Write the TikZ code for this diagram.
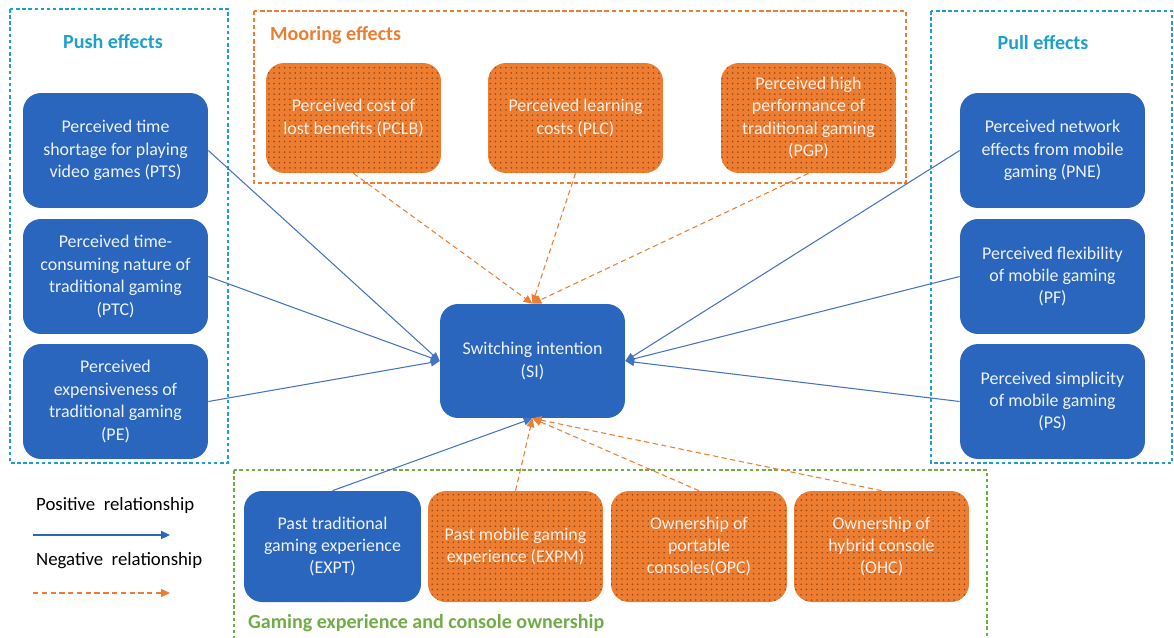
\documentclass[tikz,border=0pt]{standalone}
\usepackage{fontspec}
\setmainfont{Carlito}
\usepackage{tikz}
\usetikzlibrary{arrows.meta,patterns}

\definecolor{boxblue}{RGB}{42,101,190}
\definecolor{linkblue}{RGB}{68,114,196}
\definecolor{boxorange}{RGB}{237,125,49}
\definecolor{dotbrown}{RGB}{150,70,20}
\definecolor{pushcyan}{RGB}{30,160,205}
\definecolor{groupgreen}{RGB}{112,173,71}

\begin{document}
\begin{tikzpicture}[x=0.02cm, y=-0.02cm,
  every node/.style={font=\fontsize{10.2}{12.8}\selectfont, align=center},
  var/.style={rounded corners=0.36cm, minimum width=3.7cm, minimum height=2.3cm, inner sep=2pt},
  posbox/.style={var, fill=boxblue, text=white!92!boxblue},
  negbox/.style={var, fill=boxorange, text=white!88!boxorange,
    postaction={pattern=dots, pattern color=dotbrown}},
  title/.style={font=\fontsize{11.4}{13}\selectfont\bfseries},
  plus/.style={linkblue, line width=0.6pt, -{Triangle[length=5pt,width=4.5pt]}},
  minus/.style={boxorange, line width=0.6pt, dashed, dash pattern=on 3pt off 2pt,
    -{Triangle[length=5pt,width=4.5pt]}}]
\useasboundingbox (0,0) rectangle (1174,637);

% group frames
\draw[pushcyan, dashed, dash pattern=on 2pt off 1.5pt, line width=0.6pt] (10,9) rectangle (228,463);
\draw[pushcyan, dashed, dash pattern=on 2pt off 1.5pt, line width=0.6pt] (931,11) rectangle (1172,463);
\draw[boxorange, dashed, dash pattern=on 2.5pt off 1.5pt, line width=0.6pt] (254,11) rectangle (906,183);
\draw[groupgreen, dashed, dash pattern=on 2pt off 1.5pt, line width=0.6pt] (234,470) rectangle (987,650);

\node[title, text=pushcyan] (push) at (113,42) {Push effects};
\node[title, text=pushcyan] (pull) at (1043,43) {Pull effects};
\node[title, text=boxorange, anchor=west] (moor) at (264,35) {Mooring effects};
\node[title, text=groupgreen, anchor=west] (exp) at (242,623) {Gaming experience and console ownership};

% push factors
\node[posbox] (PTS) at (115.5,150.5) {Perceived time\\shortage for playing\\video games (PTS)};
\node[posbox] (PTC) at (115.5,276.5) {Perceived time-\\consuming nature of\\traditional gaming\\(PTC)};
\node[posbox] (PE) at (115.5,401.5) {Perceived\\expensiveness of\\traditional gaming\\(PE)};

% mooring factors
\node[negbox, minimum width=3.5cm, minimum height=2.2cm] (PCLB) at (353.5,118) {Perceived cost of\\lost benefits (PCLB)};
\node[negbox, minimum width=3.5cm, minimum height=2.2cm] (PLC) at (575.5,118) {Perceived learning\\costs (PLC)};
\node[negbox, minimum width=3.5cm, minimum height=2.2cm] (PGP) at (808.5,118) {Perceived high\\performance of\\traditional gaming\\(PGP)};

% pull factors
\node[posbox] (PNE) at (1052.5,150.5) {Perceived network\\effects from mobile\\gaming (PNE)};
\node[posbox] (PF) at (1052.5,276.5) {Perceived flexibility\\of mobile gaming\\(PF)};
\node[posbox] (PS) at (1052.5,401.5) {Perceived simplicity\\of mobile gaming\\(PS)};

\node[posbox, minimum height=2.28cm] (SI) at (532.5,361) {Switching intention\\(SI)};

% experience and ownership
\node[posbox, minimum width=3.54cm, minimum height=2.22cm] (EXPT) at (332.5,546.5) {Past traditional\\gaming experience\\(EXPT)};
\node[negbox, minimum width=3.5cm, minimum height=2.22cm] (EXPM) at (515.5,546.5) {Past mobile gaming\\experience (EXPM)};
\node[negbox, minimum width=3.52cm, minimum height=2.22cm] (OPC) at (699,546.5) {Ownership of\\portable\\consoles(OPC)};
\node[negbox, minimum width=3.5cm, minimum height=2.22cm] (OHC) at (881.5,546.5) {Ownership of\\hybrid console\\(OHC)};

% paths
\foreach \from in {PTS,PTC,PE}
\draw[plus] (\from.east) -- (SI.west);
\foreach \from in {PNE,PF,PS}
\draw[plus] (\from.west) -- (SI.east);
\foreach \from in {PCLB,PLC,PGP}
\draw[minus] (\from.south) -- (SI.north);
\draw[plus] (EXPT.north) -- (SI.south);
\foreach \from in {EXPM,OPC,OHC}
\draw[minus] (\from.north) -- (SI.south);

% legend
\node[anchor=west, font=\fontsize{10.7}{13}\selectfont] (lpos) at (30,505) {Positive\ \ relationship};
\node[anchor=west, font=\fontsize{10.7}{13}\selectfont] (lneg) at (30,561) {Negative\ \ relationship};
\coordinate (p1) at (33,535);
\coordinate (p2) at (170,535);
\coordinate (n1) at (33,593);
\coordinate (n2) at (170,593);
\draw[plus, boxblue, line width=1pt] (p1) -- (p2);
\draw[minus] (n1) -- (n2);
\end{tikzpicture}
\end{document}
